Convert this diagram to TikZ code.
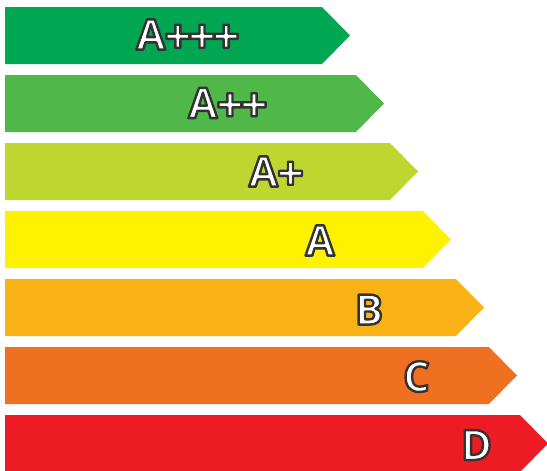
\documentclass[tikz,border=0pt]{standalone}
\usepackage{fontspec}
\setmainfont{Open Sans}
\definecolor{cAppp}{HTML}{00A651}
\definecolor{cApp}{HTML}{50B848}
\definecolor{cAp}{HTML}{BED630}
\definecolor{cA}{HTML}{FFF200}
\definecolor{cB}{HTML}{F9B316}
\definecolor{cC}{HTML}{F07022}
\definecolor{cD}{HTML}{ED1C24}
\newcommand{\outl}[1]{\special{pdf:code q 0.2 G 2 Tr 2.4 w 1 j}#1\special{pdf:code Q}}
\newcommand{\pl}{{\fontsize{47.5}{47.5}\selectfont\raisebox{-3.5pt}{+}}}
\tikzset{
  lbl/.style={text=white, font=\fontsize{42}{42}\selectfont\bfseries, inner sep=0pt, anchor=center},
}
\newcommand{\ebar}[4]{% top y, rect end x, color, name
  \fill[#3] (5,#1) -- (#2,#1) -- ({#2+28},{#1+28.5}) -- (#2,{#1+57}) -- (5,{#1+57}) -- cycle;
}
\begin{document}
\begin{tikzpicture}[x=1pt,y=-1pt]
\useasboundingbox (0,0) rectangle (547,471);
\ebar{7}{322}{cAppp}{b1}
\ebar{75}{356}{cApp}{b2}
\ebar{143}{390}{cAp}{b3}
\ebar{211}{423}{cA}{b4}
\ebar{279}{456}{cB}{b5}
\ebar{347}{489}{cC}{b6}
\ebar{415}{520}{cD}{b7}
\node[lbl] (t1) at (188,34.5) {\vphantom{A}\smash{\outl{A\kern-1pt\pl\kern-3pt\pl\kern-3pt\pl}}};
\node[lbl] (t2) at (228,103) {\vphantom{A}\smash{\outl{A\kern-1pt\pl\kern-3pt\pl}}};
\node[lbl] (t3) at (276.5,171.5) {\vphantom{A}\smash{\outl{A\kern-1pt\pl}}};
\node[lbl] (t4) at (320,240.5) {\vphantom{A}\smash{\outl{A}}};
\node[lbl] (t5) at (369,309.5) {\vphantom{A}\smash{\outl{B}}};
\node[lbl] (t6) at (416.5,376.5) {\vphantom{A}\smash{\outl{C}}};
\node[lbl] (t7) at (476.5,445) {\vphantom{A}\smash{\outl{D}}};
\end{tikzpicture}
\end{document}
